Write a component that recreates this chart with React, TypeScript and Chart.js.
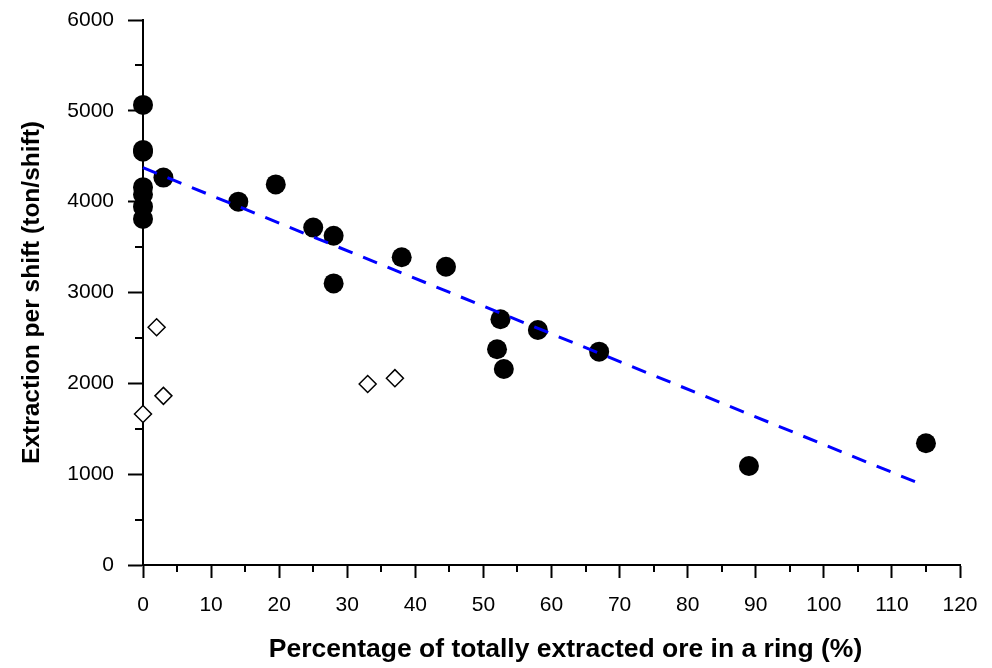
import React, { useEffect, useRef } from "react";
import { Chart, registerables } from "chart.js";

Chart.register(...registerables);

// Filled circles (main data set)
const filledX = [0, 0, 0, 0, 0, 0, 0, 3, 14, 19.5, 25, 28, 28, 38, 44.5, 52.5, 52, 53, 58, 67, 89, 115];
const filledY = [5065, 4570, 4550, 4160, 4080, 3945, 3810, 4265, 4000, 4190, 3715, 3625, 3100, 3388, 3284, 2705, 2375, 2158, 2587, 2349, 1090, 1340];
// Open diamonds
const openX = [2, 3, 0, 33, 37];
const openY = [2617, 1862, 1662, 1993, 2057];
// Fitted trend line endpoints
const fitX = [0, 113.4];
const fitY = [4374, 917];

// Axis ticks
const xMajorStep = 10;
const yMajorStep = 1000;
const xMinorTicks = [5, 15, 25, 35, 45, 55, 65, 75, 85, 95, 105, 115];
const yMinorTicks = [500, 1500, 2500, 3500, 4500, 5500];

const xTitle = "Percentage of totally extracted ore in a ring (%)";
const yTitle = "Extraction per shift (ton/shift)";

const FONT = "'Liberation Sans', Arial, sans-serif";

export default function App() {
  const ref = useRef<HTMLCanvasElement | null>(null);

  useEffect(() => {
    document.body.style.margin = "0";
    const canvas = ref.current;
    if (!canvas) return;

    const filledPts = filledX.map((x, i) => ({ x, y: filledY[i] }));
    const openPts = openX.map((x, i) => ({ x, y: openY[i] }));
    const fitPts = fitX.map((x, i) => ({ x, y: fitY[i] }));

    const extras = {
      id: "extras",
      afterDraw(chart: any) {
        const { ctx, scales, chartArea } = chart;
        ctx.save();
        ctx.strokeStyle = "#000";
        ctx.lineWidth = 2;
        ctx.beginPath();
        yMinorTicks.forEach((v) => {
          const py = Math.round(scales.y.getPixelForValue(v));
          ctx.moveTo(chartArea.left - 8, py);
          ctx.lineTo(chartArea.left, py);
        });
        xMinorTicks.forEach((v) => {
          const px = Math.round(scales.x.getPixelForValue(v));
          ctx.moveTo(px, chartArea.bottom);
          ctx.lineTo(px, chartArea.bottom + 7);
        });
        ctx.stroke();
        // x-axis title
        ctx.fillStyle = "#000";
        ctx.font = `bold 26.5px ${FONT}`;
        ctx.textAlign = "center";
        ctx.textBaseline = "middle";
        ctx.fillText(xTitle, (chartArea.left + chartArea.right) / 2 + 14, chartArea.bottom + 85);
        ctx.restore();
      },
    };

    const chart = new Chart(canvas, {
      type: "scatter",
      data: {
        datasets: [
          {
            label: "fit",
            data: fitPts,
            showLine: true,
            borderColor: "#0000ff",
            borderWidth: 3,
            borderDash: [15, 11.4],
            pointRadius: 0,
            order: 0,
            clip: false as any,
          },
          {
            label: "filled",
            data: filledPts,
            backgroundColor: "#000",
            borderColor: "#000",
            pointStyle: "circle",
            pointRadius: 10,
            borderWidth: 0,
            order: 1,
            clip: false as any,
          },
          {
            label: "open",
            data: openPts,
            backgroundColor: "#fff",
            borderColor: "#000",
            pointStyle: "rectRot",
            pointRadius: 8.5,
            borderWidth: 1.5,
            order: 2,
            clip: false as any,
          },
        ],
      },
      options: {
        animation: false,
        responsive: false,
        layout: { padding: { top: 20, right: 32, left: 0, bottom: 0 } },
        plugins: { legend: { display: false }, tooltip: { enabled: false } },
        scales: {
          x: {
            type: "linear",
            min: 0,
            max: 120,
            afterFit: (s: any) => {
              s.height = 103;
              s.paddingLeft = 0;
              s.paddingRight = 0;
            },
            ticks: {
              stepSize: xMajorStep,
              color: "#000",
              font: { family: FONT, size: 21 },
              padding: 15,
              maxRotation: 0,
              callback: (v: any) => String(v),
            },
            grid: {
              drawOnChartArea: false,
              drawTicks: true,
              tickLength: 13,
              tickWidth: 2,
              tickColor: "#000",
            },
            border: { color: "#000", width: 2 },
          },
          y: {
            type: "linear",
            min: 0,
            max: 6000,
            afterFit: (s: any) => {
              s.width = 143;
              s.paddingTop = 0;
              s.paddingBottom = 0;
            },
            ticks: {
              stepSize: yMajorStep,
              color: "#000",
              font: { family: FONT, size: 21 },
              padding: 14,
              callback: (v: any) => String(v),
            },
            grid: {
              drawOnChartArea: false,
              drawTicks: true,
              tickLength: 15,
              tickWidth: 2,
              tickColor: "#000",
            },
            border: { color: "#000", width: 2 },
            title: {
              display: true,
              text: yTitle,
              color: "#000",
              font: { family: FONT, size: 24.5, weight: "bold" },
              padding: { top: 18, bottom: 0 },
            },
          },
        },
      },
      plugins: [extras],
    } as any);

    return () => chart.destroy();
  }, []);

  return (
    <div style={{ width: 992, height: 668 }}>
      <canvas ref={ref} width={992} height={668} />
    </div>
  );
}
